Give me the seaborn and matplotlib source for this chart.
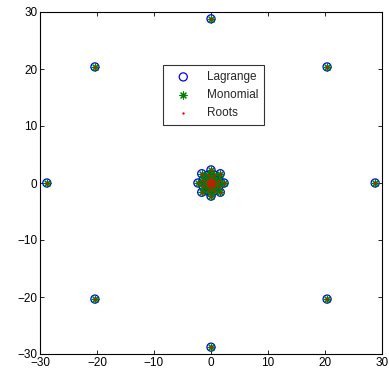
import numpy as np
import pandas as pd
import matplotlib
matplotlib.use('Agg')
import matplotlib.pyplot as plt
import seaborn as sns

# rings of roots: (radius, starting angle in degrees), 8 points each
ring_radius = [28.8, 2.3, 1.5, 0.85, 0.35]
ring_offset = [0.0, 0.0, 22.5, 0.0, 22.5]
n_per_ring = 8

re_vals = []
im_vals = []
for r, a0 in zip(ring_radius, ring_offset):
    ang = np.deg2rad(a0 + 45.0 * np.arange(n_per_ring))
    re_vals += list(r * np.cos(ang))
    im_vals += list(r * np.sin(ang))

df = pd.DataFrame({'re': re_vals, 'im': im_vals})

ticks = [-30, -20, -10, 0, 10, 20, 30]

sns.set_style('white', {'xtick.direction': 'in', 'ytick.direction': 'in',
                        'axes.edgecolor': 'black'})
plt.rcParams['font.family'] = ['Liberation Sans', 'DejaVu Sans']

fig = plt.figure(figsize=(3.89, 3.74), dpi=100)
ax = fig.add_axes([40 / 389, 20 / 374, 342 / 389, 342 / 374])

sns.scatterplot(data=df, x='re', y='im', marker='o', s=34, facecolors='none',
                edgecolors='blue', linewidth=0.9, label='Lagrange', ax=ax)
sns.scatterplot(data=df, x='re', y='im', marker=(8, 2, 0), s=26, color='#008000',
                edgecolor='#008000', linewidth=0.8, label='Monomial', ax=ax)
sns.scatterplot(data=df, x='re', y='im', marker='.', s=12, color='red',
                edgecolor='red', linewidth=0, label='Roots', ax=ax)

ax.collections[0].set_facecolor('none')
ax.collections[0].set_edgecolor('blue')

ax.set_xlim(-30, 30)
ax.set_ylim(-30, 30)
ax.set_xticks(ticks)
ax.set_yticks(ticks)
ax.set_xticklabels(['\u221230', '\u221220', '\u221210', '0', '10', '20', '30'])
ax.set_yticklabels(['\u221230', '\u221220', '\u221210', '0', '10', '20', '30'])
ax.set_xlabel('')
ax.set_ylabel('')
ax.tick_params(axis='both', which='both', direction='in', length=3, width=0.6,
               top=True, right=True, bottom=True, left=True, labelsize=8.5,
               pad=2, colors='black')
for sp in ax.spines.values():
    sp.set_linewidth(0.8)
    sp.set_color('black')

leg = ax.legend(loc='upper left', bbox_to_anchor=(0.343, 0.862), fontsize=8.5,
                frameon=True, fancybox=False, edgecolor='black',
                handletextpad=0.8, borderpad=0.5, labelspacing=0.5,
                handlelength=2.4)
leg.get_frame().set_linewidth(0.8)

fig.savefig('out.png', dpi=100)
